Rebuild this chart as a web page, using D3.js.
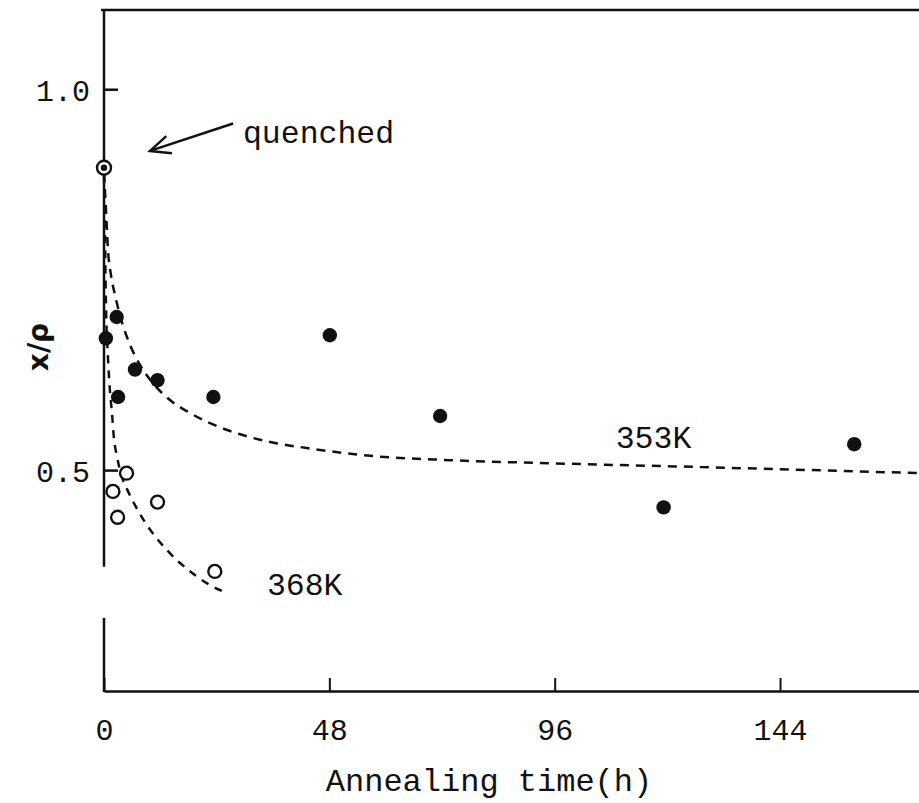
<!DOCTYPE html>
<html>
<head>
<meta charset="utf-8">
<script src="https://cdn.jsdelivr.net/npm/d3@7"></script>
<style>
  html, body { margin: 0; padding: 0; background: #fff; }
  svg { display: block; }
  .mono { font-family: "Liberation Mono", "Courier New", monospace; fill: #111; }
</style>
</head>
<body>
<svg id="chart" width="919" height="803"></svg>
<script>
// ---- data ----
const hours353 = [0.4, 2.7, 3.0, 6.6, 11.4, 23.3, 48.1, 71.6, 119.2, 159.8];
const ratio353 = [0.673, 0.701, 0.596, 0.632, 0.618, 0.596, 0.677, 0.571, 0.451, 0.534];
const hours368 = [4.8, 1.9, 2.9, 11.4, 23.6];
const ratio368 = [0.496, 0.472, 0.438, 0.458, 0.367];
const quenchedHours = [0];
const quenchedRatio = [0.897];
const fitHours353 = [0, 0.43, 0.85, 1.49, 2.34, 3.41, 5.11, 7.67, 10.44, 14.06, 18.3, 23.2, 29.0, 36.9, 43.2, 54.5, 73.7, 95.0, 127, 173.6];
const fitRatio353 = [0.890, 0.841, 0.789, 0.756, 0.730, 0.703, 0.671, 0.638, 0.614, 0.592, 0.575, 0.560, 0.547, 0.535, 0.529, 0.520, 0.513, 0.509, 0.504, 0.496];
const fitHours368 = [0, 0.2, 0.4, 0.85, 1.3, 1.7, 2.1, 2.8, 3.8, 4.9, 6.6, 8.7, 10.9, 13.4, 16.2, 19.4, 22.6, 26.0];
const fitRatio368 = [0.887, 0.815, 0.723, 0.648, 0.601, 0.575, 0.543, 0.517, 0.491, 0.475, 0.454, 0.432, 0.413, 0.395, 0.378, 0.362, 0.349, 0.339];
const xTicks = [0, 48, 96, 144];
const yTicks = [0.5, 1.0];
const curveLabels = ["353K", "368K"];
const xTitle = "Annealing time(h)";
const yTitle = "x/ρ";
const noteText = "quenched";

// ---- layout ----
const margin = {left: 104, top: 10, right: 0, bottom: 112};
const W = 919, H = 803;
const svg = d3.select("#chart");
const x = d3.scaleLinear().domain([0, 173.6]).range([margin.left, W - margin.right]);
const y = d3.scaleLinear().domain([0.21, 1.104]).range([H - margin.bottom, margin.top]);
const axisBreak = [0.373, 0.306];
const stroke = "#111";

// frame: top line
svg.append("line")
  .attr("x1", x(0) - 3).attr("x2", W).attr("y1", y(1.104)).attr("y2", y(1.104))
  .attr("stroke", stroke).attr("stroke-width", 2.5);

// y axis (broken)
const yAxis = svg.append("g").attr("transform", `translate(${x(0)},0)`)
  .call(d3.axisLeft(y).tickValues(yTicks).tickFormat(d3.format(".1f")).tickSizeInner(-14).tickSizeOuter(0));
yAxis.select(".domain").remove();
yAxis.selectAll(".tick line").attr("stroke", stroke).attr("stroke-width", 2.5);
yAxis.selectAll(".tick text").attr("class", "mono").attr("x", -14).attr("dy", "0.38em")
  .style("font-size", "30px").attr("font-family", null);
svg.append("line").attr("x1", x(0)).attr("x2", x(0)).attr("y1", y(1.104) - 1).attr("y2", y(axisBreak[0]))
  .attr("stroke", stroke).attr("stroke-width", 2.5);
svg.append("line").attr("x1", x(0)).attr("x2", x(0)).attr("y1", y(axisBreak[1])).attr("y2", y(0.21) + 1)
  .attr("stroke", stroke).attr("stroke-width", 2.5);

// x axis
const xAxis = svg.append("g").attr("transform", `translate(0,${y(0.21)})`)
  .call(d3.axisBottom(x).tickValues(xTicks).tickFormat(d3.format("d")).tickSizeInner(-13).tickSizeOuter(0));
xAxis.select(".domain").attr("stroke", stroke).attr("stroke-width", 2.5);
xAxis.selectAll(".tick line").attr("stroke", stroke).attr("stroke-width", 2);
xAxis.selectAll(".tick text").attr("class", "mono").attr("y", 49).attr("dy", 0)
  .style("font-size", "30px").attr("font-family", null);

// axis titles
svg.append("text").attr("class", "mono")
  .attr("x", 489).attr("y", 791).attr("text-anchor", "middle")
  .style("font-size", "32px").text(xTitle);
svg.append("text")
  .attr("transform", `translate(48,${347}) rotate(-90)`)
  .attr("text-anchor", "middle")
  .style("font-family", "'DejaVu Sans', sans-serif").style("font-weight", "bold")
  .style("font-size", "28px").attr("fill", "#111").text(yTitle);

// fitted dashed curves
const line = d3.line().x(d => x(d[0])).y(d => y(d[1])).curve(d3.curveMonotoneX);
svg.append("path").datum(d3.zip(fitHours353, fitRatio353)).attr("d", line)
  .attr("fill", "none").attr("stroke", stroke).attr("stroke-width", 2.5).attr("stroke-dasharray", "9,7");
svg.append("path").datum(d3.zip(fitHours368, fitRatio368)).attr("d", line)
  .attr("fill", "none").attr("stroke", stroke).attr("stroke-width", 2.5).attr("stroke-dasharray", "8,7");

// 353K filled points
svg.append("g").selectAll("circle").data(d3.zip(hours353, ratio353)).join("circle")
  .attr("cx", d => x(d[0])).attr("cy", d => y(d[1])).attr("r", 7.2).attr("fill", stroke);

// 368K open points
svg.append("g").selectAll("circle").data(d3.zip(hours368, ratio368)).join("circle")
  .attr("cx", d => x(d[0])).attr("cy", d => y(d[1])).attr("r", 6.5).attr("fill", "#fff")
  .attr("stroke", stroke).attr("stroke-width", 2.4);

// quenched point
const q = svg.append("g").selectAll("g").data(d3.zip(quenchedHours, quenchedRatio)).join("g")
  .attr("transform", d => `translate(${x(d[0])},${y(d[1])})`);
q.append("circle").attr("r", 7).attr("fill", "#fff").attr("stroke", stroke).attr("stroke-width", 2.4);
q.append("circle").attr("r", 3.2).attr("fill", stroke);

// curve labels
svg.append("text").attr("class", "mono").attr("x", x(109)).attr("y", y(0.529))
  .style("font-size", "31.5px").text(curveLabels[0]);
svg.append("text").attr("class", "mono").attr("x", x(34.7)).attr("y", y(0.336))
  .style("font-size", "31.5px").text(curveLabels[1]);

// quenched annotation
svg.append("text").attr("class", "mono").attr("x", x(29.6)).attr("y", y(0.93))
  .style("font-size", "31.5px").text(noteText);
const tip = [x(9.8), y(0.919)], tail = [x(27.5), y(0.955)];
svg.append("line").attr("x1", tail[0]).attr("y1", tail[1]).attr("x2", tip[0]).attr("y2", tip[1])
  .attr("stroke", stroke).attr("stroke-width", 2.5);
const ang = Math.atan2(tail[1] - tip[1], tail[0] - tip[0]);
const hl = 22, spread = 0.42;
svg.append("path")
  .attr("d", `M${tip[0] + hl * Math.cos(ang - spread)},${tip[1] + hl * Math.sin(ang - spread)} L${tip[0]},${tip[1]} L${tip[0] + hl * Math.cos(ang + spread)},${tip[1] + hl * Math.sin(ang + spread)}`)
  .attr("fill", "none").attr("stroke", stroke).attr("stroke-width", 2.5);
</script>
</body>
</html>
